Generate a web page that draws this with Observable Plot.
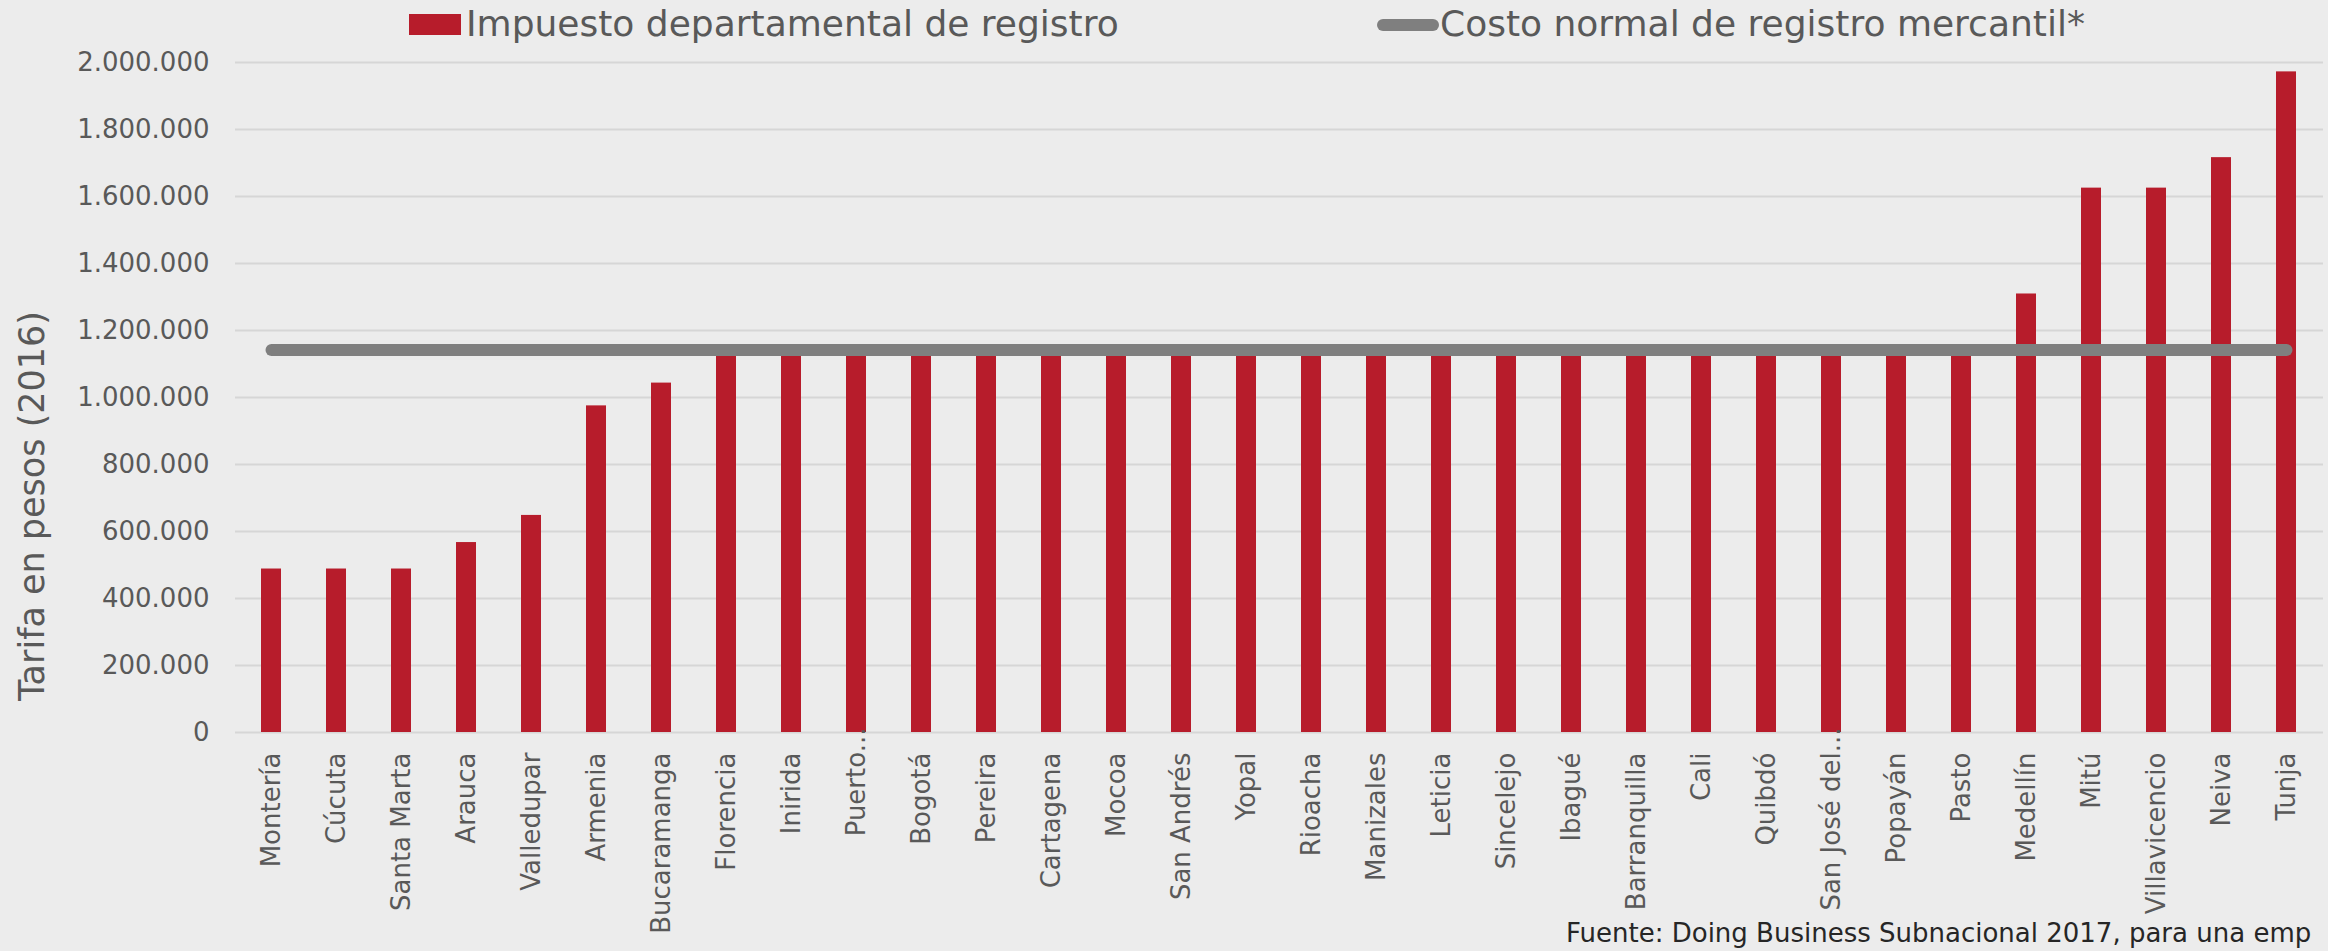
<!DOCTYPE html>
<html>
<head>
<meta charset="utf-8">
<script src="https://cdn.jsdelivr.net/npm/d3@7"></script>
<script src="https://cdn.jsdelivr.net/npm/@observablehq/plot@0.6"></script>
<style>
  html, body { margin: 0; padding: 0; background: #ececec; }
  #wrap { position: relative; width: 2328px; height: 951px; overflow: hidden;
          font-family: "DejaVu Sans", sans-serif; color: #595959; background: #ececec; }
  #legend { position: relative; height: 45px; }
  .sw { position: absolute; }
  .lt { position: absolute; white-space: nowrap; font-size: 36px; line-height: 36px; top: 6px; }
  #ytitle { position: absolute; left: 0; top: 0; width: 500px; text-align: center; white-space: nowrap;
            font-size: 35px; line-height: 35px; transform-origin: 0 0;
            transform: translate(15px, 756px) rotate(-90deg); }
  #footer { position: absolute; left: 1566px; top: 920px; white-space: nowrap;
            font-size: 26px; line-height: 26px; color: #262626; }
  #chart svg { display: block; }
</style>
</head>
<body>
<div id="wrap">
  <div id="legend"></div>
  <div id="chart"></div>
  <div id="ytitle"></div>
  <div id="footer"></div>
</div>
<script>
// ---- Data ----
const cities = ["Montería", "Cúcuta", "Santa Marta", "Arauca", "Valledupar", "Armenia", "Bucaramanga",
  "Florencia", "Inirida", "Puerto...", "Bogotá", "Pereira", "Cartagena", "Mocoa", "San Andrés", "Yopal",
  "Rioacha", "Manizales", "Leticia", "Sincelejo", "Ibagué", "Barranquilla", "Cali", "Quibdó",
  "San José del...", "Popayán", "Pasto", "Medellín", "Mitú", "Villavicencio", "Neiva", "Tunja"];
const impuesto = [488000, 488000, 488000, 567000, 648000, 975000, 1043000,
  1141000, 1141000, 1141000, 1141000, 1141000, 1141000, 1141000, 1141000, 1141000,
  1141000, 1141000, 1141000, 1141000, 1141000, 1141000, 1141000, 1141000,
  1141000, 1141000, 1141000, 1309000, 1625000, 1625000, 1716000, 1972000];
const costoNormal = 1141500;
const yTicks = [0, 200000, 400000, 600000, 800000, 1000000, 1200000, 1400000, 1600000, 1800000, 2000000];
const truncated = ["Puerto...", "San José del..."];
const seriesNames = ["Impuesto departamental de registro", "Costo normal de registro mercantil*"];
const yTitle = "Tarifa en pesos (2016)";
const source = "Fuente: Doing Business Subnacional 2017, para una emp";

const RED = "#b71c2b", GREY = "#7f7f7f";

const data = cities.map((c, i) => ({city: c, value: impuesto[i], costo: costoNormal}));
const fmt = d3.formatLocale({decimal: ",", thousands: ".", grouping: [3], currency: ["$", ""]}).format(",d");

// ---- Legend (HTML, above the SVG) ----
const legend = document.getElementById("legend");
legend.innerHTML = `
  <div class="sw" style="left:409px;top:14px;width:52px;height:21px;background:${RED}"></div>
  <div class="lt" style="left:466px">${seriesNames[0]}</div>
  <div class="sw" style="left:1377px;top:19px;width:62px;height:12px;border-radius:6px;background:${GREY}"></div>
  <div class="lt" style="left:1440px">${seriesNames[1]}</div>`;
document.getElementById("ytitle").textContent = yTitle;
document.getElementById("footer").textContent = source;

// ---- Chart ----
const chart = Plot.plot({
  width: 2328,
  height: 906,
  marginTop: 17,
  marginBottom: 219,
  marginLeft: 235,
  marginRight: 5,
  style: {background: "transparent", fontFamily: "DejaVu Sans, sans-serif", fontSize: "26px", color: "#595959", overflow: "visible"},
  x: {domain: cities, paddingInner: 0.6855, paddingOuter: 0.36, label: null},
  y: {domain: [0, 2000000], label: null},
  marks: [
    Plot.gridY(yTicks, {stroke: "#d6d6d6", strokeOpacity: 1, strokeWidth: 2}),
    Plot.barY(data, {x: "city", y: "value", fill: RED}),
    Plot.lineY(data, {x: "city", y: "costo", stroke: GREY, strokeWidth: 12, strokeLinecap: "round"}),
    Plot.axisY({ticks: yTicks, tickSize: 0, tickPadding: 26, tickFormat: fmt, fontSize: 26, label: null}),
    Plot.axisX({ticks: cities.filter(c => !truncated.includes(c)), tickRotate: -90, tickSize: 0, tickPadding: 20, fontSize: 26, label: null}),
    Plot.axisX({ticks: truncated, tickRotate: -90, tickSize: 0, tickPadding: -5, fontSize: 26, label: null})
  ]
});
document.getElementById("chart").appendChild(chart);
</script>
</body>
</html>
